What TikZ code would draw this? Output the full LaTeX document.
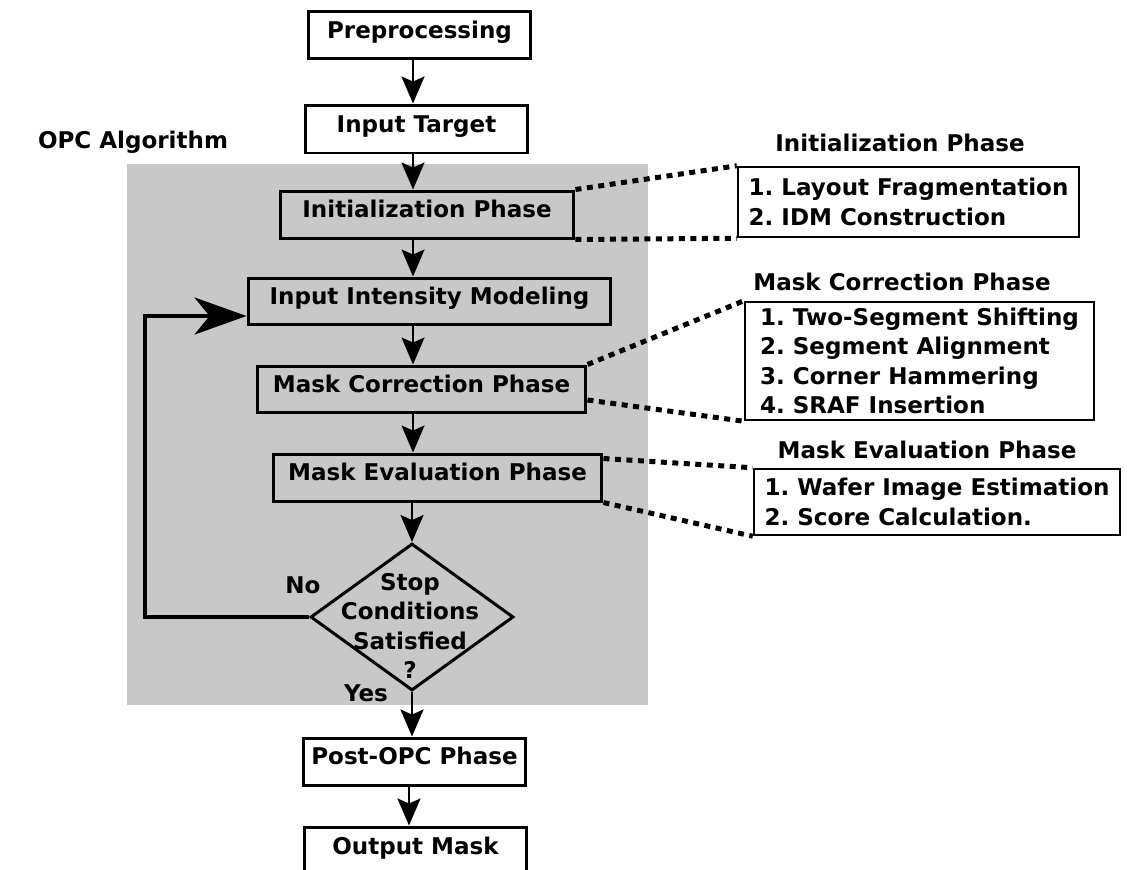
\documentclass[tikz,border=0pt]{standalone}
\usepackage{fontspec}
\setmainfont{DejaVu Sans}
\usetikzlibrary{arrows.meta,shapes.geometric,calc}
\definecolor{panel}{RGB}{200,200,200}
\frenchspacing
\begin{document}
\begin{tikzpicture}[x=0.02cm,y=-0.02cm,
  every node/.style={font=\bfseries\fontsize{13.1}{16.8}\selectfont\frenchspacing, inner sep=0pt},
  stepbox/.style={draw, line width=0.06cm, text height=0.75em, text depth=0.4em},
  listbox/.style={draw, line width=0.05cm, align=left},
  flow/.style={line width=0.045cm, -{Stealth[length=0.54cm,width=0.46cm,inset=0.1cm]}},
  loopback/.style={line width=0.08cm, -{Stealth[length=1.04cm,width=0.74cm,inset=0.3cm]}},
  zoomline/.style={line width=0.1cm, dash pattern=on 0.12cm off 0.11cm},
  caption/.style={anchor=base}]

\useasboundingbox (0,0) rectangle (1138,869);
\clip (0,0) rectangle (1138,869);

% grey panel holding the iterative OPC loop
\fill[panel] (127,164) rectangle (648,705);
\node[caption] (opc) at (133,148) {OPC Algorithm};

% main flow
\node[stepbox, minimum width=4.46cm, minimum height=0.96cm] (pre)  at (419.5,35)  {Preprocessing};
\node[stepbox, minimum width=4.46cm, minimum height=0.96cm] (it)   at (416.5,129) {Input Target};
\node[stepbox, minimum width=5.88cm, minimum height=0.94cm] (init) at (427,214.5) {Initialization Phase};
\node[stepbox, minimum width=7.26cm, minimum height=0.92cm] (iim)  at (429.5,301) {Input Intensity Modeling};
\node[stepbox, minimum width=6.58cm, minimum height=0.92cm] (mc)   at (421.5,389) {Mask Correction Phase};
\node[stepbox, minimum width=6.58cm, minimum height=0.94cm] (me)   at (437.5,477.5) {Mask Evaluation Phase};
\node[draw, line width=0.06cm, shape=diamond, minimum width=4.06cm, minimum height=2.94cm] (dec) at (412,617) {};
\node[align=center] (dectext) at (410,626) {Stop\\Conditions\\Satisfied\\?};
\node[stepbox, minimum width=4.46cm, minimum height=0.94cm] (post) at (414.5,761.5) {Post-OPC Phase};
\node[stepbox, minimum width=4.46cm, minimum height=0.96cm] (out)  at (415.5,851) {Output Mask};

\node[caption] (no)  at (303,593) {No};
\node[caption] (yes) at (366,701.5) {Yes};

% vertical spines for the arrows
\coordinate (sp) at (413,0);
\coordinate (sp2) at (409,0);
\coordinate (lc) at (145,316);

\draw[flow] (pre.south -| sp) -- (it.north -| sp);
\draw[flow] (it.south -| sp) -- (init.north -| sp);
\draw[flow] (init.south -| sp) -- (iim.north -| sp);
\draw[flow] (iim.south -| sp) -- (mc.north -| sp);
\draw[flow] (mc.south -| sp) -- (me.north -| sp);
\draw[flow] (me.south -| dec.north) -- (dec.north);
\draw[flow] (dec.south) -- (dec.south |- post.north);
\draw[flow] (post.south -| sp2) -- (out.north -| sp2);

% feedback loop when the stop conditions fail
\draw[loopback] (dec.west) -| (lc) -- (lc -| iim.west);

% detail boxes
\node[caption] (inith) at (900,151.5) {Initialization Phase};
\node[listbox, minimum width=6.82cm, minimum height=1.40cm] (initl) at (908.5,202)
  {1. Layout Fragmentation\\2. IDM Construction};
\node[caption] (mch) at (902,290) {Mask Correction Phase};
\node[listbox, minimum width=6.98cm, minimum height=2.36cm] (mcl) at (919.5,361)
  {1. Two-Segment Shifting\\2. Segment Alignment\\3. Corner Hammering\\4. SRAF Insertion};
\node[caption] (meh) at (927,458.5) {Mask Evaluation Phase};
\node[listbox, minimum width=7.32cm, minimum height=1.32cm] (mel) at (937,502)
  {1. Wafer Image Estimation\\2. Score Calculation.};

% dotted zoom lines from each phase to its details
\draw[zoomline] (init.north east) -- (initl.north west);
\draw[zoomline] (init.south east) -- (initl.south west);
\draw[zoomline] (mc.north east) -- (mcl.north west);
\draw[zoomline] ([yshift=-0.22cm]mc.east) -- (mcl.south west);
\draw[zoomline] ([yshift=-0.12cm]me.north east) -- (mel.north west);
\draw[zoomline] (me.south east) -- (mel.south west);
\end{tikzpicture}
\end{document}
